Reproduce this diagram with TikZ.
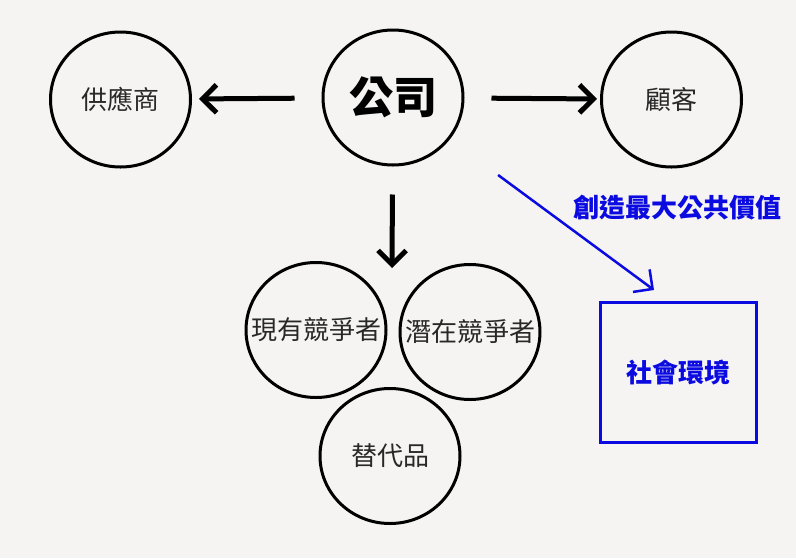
\documentclass[tikz,border=0pt]{standalone}
\usepackage{fontspec}
\newfontfamily\cjk{Noto Sans CJK TC}
\usetikzlibrary{shapes.geometric, arrows.meta}
\definecolor{paper}{RGB}{245,244,243}
\definecolor{myblue}{RGB}{10,10,225}
\definecolor{ink}{RGB}{40,40,40}
\begin{document}
\begin{tikzpicture}[x=1pt, y=-1pt,
    party/.style={draw, ellipse, line width=3pt, minimum width=140pt, minimum height=135pt, inner sep=0pt, text=ink, font=\cjk\fontsize{26}{30}\selectfont},
    force/.style={-{Straight Barb[length=14pt, width=28pt]}, line width=5pt},
    social/.style={draw=myblue, line width=3.5pt, minimum width=156pt, minimum height=140pt, text=myblue, font=\cjk\bfseries\fontsize{26}{30}\selectfont}]
    \fill[paper] (0, 0) rectangle (796, 558);
    \useasboundingbox (0, 0) rectangle (796, 558);

    \node[party] (S) at (120.5, 99.5) {供應商};
    \node[party, text=black, font=\cjk\bfseries\fontsize{44}{48}\selectfont] (F) at (393, 97.5) {公司};
    \node[party] (K) at (671.5, 99.5) {顧客};

    \node[party] (E) at (316, 330) {\makebox[0pt]{現有競爭者}};
    \node[party] (P) at (470, 332) {\makebox[0pt]{潛在競爭者}};
    \node[party] (R) at (390, 456) {替代品};

    \node[social] (V) at (678.5, 372.5) {社會環境};

    \coordinate (G) at (392, 268);
    \coordinate (T) at (654, 290);

    % Arrows
    \draw[force, shorten <=27pt, shorten >=7pt] (F) -- (S);
    \draw[force, shorten <=27pt, shorten >=3pt] (F) -- (K);
    \draw[force, shorten <=28pt] (F) -- (G);
    \draw[-{Straight Barb[length=14pt, width=28pt]}, myblue, line width=2.5pt, shorten <=60pt] (F) -- (T);

    \node[text=myblue, font=\cjk\bfseries\fontsize{26}{30}\selectfont] (L) at (677, 208) {創造最大公共價值};

\end{tikzpicture}
\end{document}
